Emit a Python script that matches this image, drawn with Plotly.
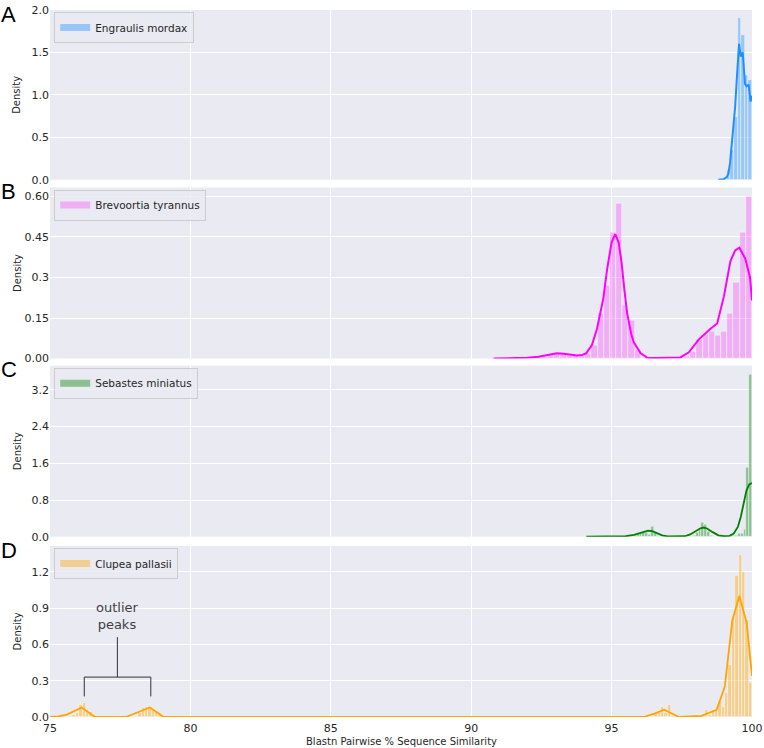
#import modules
import plotly.graph_objects as go
from plotly.subplots import make_subplots

#panel A - Engraulis mordax
a_bin_x = [99.03, 99.16, 99.29, 99.42, 99.55, 99.68, 99.81, 99.94]
a_bin_y = [0.02, 0.12, 0.35, 0.74, 1.91, 1.70, 1.23, 1.17]
a_kde_x = [98.8, 98.98, 99.1, 99.16, 99.22, 99.28, 99.34, 99.4, 99.47, 99.54, 99.6, 99.67, 99.75, 99.81, 99.88, 99.95, 100.0]
a_kde_y = [0.0, 0.005, 0.03, 0.07, 0.2, 0.42, 0.62, 0.86, 1.25, 1.60, 1.45, 1.50, 1.13, 1.10, 1.12, 0.92, 0.99]

#panel B - Brevoortia tyrannus
b_bin_x = [92.41, 92.63, 92.85, 93.07, 93.29, 93.51, 93.73, 93.95, 94.17, 94.39, 94.61, 94.83,
           95.05, 95.27, 95.49, 95.71, 95.93, 97.69, 97.91, 98.13, 98.35, 98.57, 98.79, 99.01,
           99.23, 99.45, 99.67, 99.89]
b_bin_y = [0.004, 0.008, 0.015, 0.02, 0.018, 0.012, 0.01, 0.012, 0.02, 0.05, 0.166, 0.27,
           0.466, 0.575, 0.195, 0.14, 0.033, 0.007, 0.027, 0.07, 0.09, 0.10, 0.085, 0.10,
           0.166, 0.28, 0.466, 0.60]
b_kde_x = [90.8, 91.5, 92.0, 92.4, 92.7, 93.05, 93.3, 93.55, 93.76, 93.95, 94.1, 94.3, 94.48,
           94.7, 94.84, 95.0, 95.13, 95.25, 95.35, 95.45, 95.55, 95.7, 95.79, 96.03, 96.27,
           96.6, 97.0, 97.45, 97.75, 98.1, 98.52, 98.76, 99.0, 99.23, 99.4, 99.55, 99.76,
           99.93, 100.0]
b_kde_y = [0.0, 0.001, 0.003, 0.007, 0.013, 0.02, 0.018, 0.013, 0.011, 0.013, 0.02, 0.05, 0.11,
           0.22, 0.33, 0.43, 0.46, 0.43, 0.36, 0.26, 0.17, 0.09, 0.06, 0.02, 0.003,
           0.002, 0.002, 0.004, 0.023, 0.07, 0.11, 0.13, 0.23, 0.36, 0.40, 0.41, 0.37,
           0.30, 0.215]

#panel C - Sebastes miniatus
c_bin_x = [95.85, 95.95, 96.05, 96.15, 96.25, 96.35, 96.45, 96.55, 96.65,
           97.95, 98.05, 98.15, 98.25, 98.35, 98.45, 98.55,
           99.35, 99.45, 99.55, 99.65, 99.75, 99.85, 99.95]
c_bin_y = [0.02, 0.04, 0.06, 0.10, 0.10, 0.05, 0.23, 0.08, 0.02,
           0.03, 0.08, 0.15, 0.31, 0.27, 0.12, 0.03,
           0.02, 0.03, 0.06, 0.06, 0.15, 1.51, 3.53]
c_kde_x = [94.1, 95.0, 95.5, 95.8, 96.0, 96.15, 96.3, 96.45, 96.6, 96.8, 97.0, 97.3, 97.6,
           97.8, 98.0, 98.15, 98.27, 98.4, 98.6, 98.8, 99.0, 99.2, 99.35, 99.5, 99.6, 99.7,
           99.8, 99.9, 100.0]
c_kde_y = [0.0, 0.002, 0.01, 0.04, 0.08, 0.115, 0.13, 0.12, 0.08, 0.03, 0.008, 0.002, 0.01,
           0.05, 0.12, 0.18, 0.20, 0.18, 0.10, 0.03, 0.01, 0.02, 0.07, 0.22, 0.43, 0.72,
           1.0, 1.14, 1.17]

#panel D - Clupea pallasii
d_bin_x = [75.86, 75.98, 76.10, 76.22, 76.34, 76.46, 76.58,
           78.20, 78.32, 78.44, 78.56, 78.68, 78.80, 78.92,
           96.46, 96.58, 96.70, 96.82, 96.94, 97.06, 97.18,
           98.26, 98.38, 98.50, 98.62, 98.74, 98.86, 98.98, 99.10, 99.22, 99.34, 99.46,
           99.58, 99.70, 99.82, 99.94]
d_bin_y = [0.02, 0.03, 0.10, 0.12, 0.06, 0.04, 0.02,
           0.03, 0.074, 0.087, 0.08, 0.065, 0.05, 0.03,
           0.01, 0.03, 0.05, 0.087, 0.03, 0.10, 0.01,
           0.015, 0.06, 0.02, 0.06, 0.06, 0.13, 0.08, 0.20, 0.43, 0.83, 1.17,
           1.34, 1.20, 0.80, 0.28]
d_kde_x = [75.0, 75.3, 75.6, 76.13, 76.6, 77.7, 78.56, 79.05, 94.6, 96.14, 96.55, 96.87, 97.4,
           98.2, 98.74, 99.03, 99.3, 99.55, 99.81, 100.0]
d_kde_y = [0.0, 0.005, 0.02, 0.079, 0.0, 0.0, 0.079, 0.0, 0.0, 0.0, 0.03, 0.06, 0.0,
           0.01, 0.06, 0.25, 0.80, 1.00, 0.78, 0.34]

species = ["Engraulis mordax", "Brevoortia tyrannus", "Sebastes miniatus", "Clupea pallasii"]
panel_letters = ["A", "B", "C", "D"]
line_colors = ["#1E90FF", "#FF00FF", "#008000", "#FFA500"]
bar_colors = ["rgba(30,144,255,0.4)", "rgba(255,0,255,0.25)", "rgba(0,128,0,0.4)", "rgba(255,165,0,0.4)"]
bin_widths = [0.13, 0.22, 0.1, 0.12]
y_ranges = [[0, 2.0], [0, 0.633], [0, 3.73], [0, 1.415]]
y_tickvals = [[0, 0.5, 1.0, 1.5, 2.0], [0, 0.15, 0.3, 0.45, 0.6], [0, 0.8, 1.6, 2.4, 3.2], [0, 0.3, 0.6, 0.9, 1.2]]
y_ticktext = [["0.0", "0.5", "1.0", "1.5", "2.0"], ["0.00", "0.15", "0.3", "0.45", "0.60"],
              ["0.0", "0.8", "1.6", "2.4", "3.2"], ["0.0", "0.3", "0.6", "0.9", "1.2"]]
domains = [[0.760, 1.0], [0.507, 0.749], [0.255, 0.497], [0.0, 0.242]]

bins = [(a_bin_x, a_bin_y), (b_bin_x, b_bin_y), (c_bin_x, c_bin_y), (d_bin_x, d_bin_y)]
kdes = [(a_kde_x, a_kde_y), (b_kde_x, b_kde_y), (c_kde_x, c_kde_y), (d_kde_x, d_kde_y)]

FONT = "DejaVu Sans"
TXT = "#262626"

fig = make_subplots(rows=4, cols=1, shared_xaxes=True, vertical_spacing=0.01)

for i in range(4):
    leg = "legend" if i == 0 else "legend" + str(i + 1)
    fig.add_trace(go.Bar(x=bins[i][0], y=bins[i][1], width=bin_widths[i],
                         marker=dict(color=bar_colors[i], line=dict(color="rgba(255,255,255,0.7)", width=0.6)),
                         showlegend=False), row=i + 1, col=1)
    fig.add_trace(go.Scatter(x=kdes[i][0], y=kdes[i][1], mode="lines",
                             line=dict(color=line_colors[i], width=2 if i < 2 else 1.8),
                             showlegend=False), row=i + 1, col=1)
    #legend entry drawn as a colored patch
    fig.add_trace(go.Scatter(x=[None], y=[None], mode="lines", name=species[i],
                             line=dict(color=bar_colors[i], width=7),
                             legend=leg), row=i + 1, col=1)

layout = dict(
    width=764, height=748,
    margin=dict(l=50, r=12, t=10, b=31, autoexpand=False),
    paper_bgcolor="white",
    plot_bgcolor="#EAEAF2",
    font=dict(family=FONT, size=11, color=TXT),
    bargap=0,
    barmode="overlay",
)
for i in range(4):
    sfx = "" if i == 0 else str(i + 1)
    layout["yaxis" + sfx] = dict(domain=domains[i], range=y_ranges[i], tickvals=y_tickvals[i],
                                 ticktext=y_ticktext[i], showgrid=True, gridcolor="white", gridwidth=1,
                                 zeroline=False, showline=False, ticks="", automargin=False,
                                 tickfont=dict(size=11, color=TXT))
    layout["xaxis" + sfx] = dict(range=[75, 100], tickvals=[75, 80, 85, 90, 95, 100], showgrid=True,
                                 gridcolor="white", gridwidth=1, zeroline=False, showline=False,
                                 ticks="", automargin=False, showticklabels=(i == 3),
                                 ticklabelstandoff=3, tickfont=dict(size=11, color=TXT))
    leg = "legend" if i == 0 else "legend" + str(i + 1)
    layout[leg] = dict(x=0.006, y=domains[i][1] - 0.003, xanchor="left", yanchor="top",
                       bgcolor="rgba(234,234,242,0.8)", bordercolor="#cccccc", borderwidth=1,
                       font=dict(size=10.5, color=TXT, family=FONT), tracegroupgap=0)
fig.update_layout(**layout)

#panel letters and y titles
for i in range(4):
    mid = (domains[i][0] + domains[i][1]) / 2
    fig.add_annotation(text="Density", xref="paper", yref="paper", x=-0.047, y=mid,
                       textangle=-90, showarrow=False, xanchor="center", yanchor="middle",
                       font=dict(size=10, color=TXT, family=FONT))
    fig.add_annotation(text=panel_letters[i], xref="paper", yref="paper", x=-0.073,
                       y=domains[i][1] - 0.006, showarrow=False, xanchor="left", yanchor="middle",
                       font=dict(size=22, color="black", family="Liberation Sans"))

fig.add_annotation(text="Blastn Pairwise % Sequence Similarity", xref="paper", yref="paper",
                   x=0.5, y=-0.034, showarrow=False, xanchor="center", yanchor="middle",
                   font=dict(size=10, color=TXT, family=FONT))

#outlier peaks bracket
peak_left = 76.22
peak_right = 78.59
bracket_mid = 77.40
stem_bottom = 0.17
bracket_y = 0.33
stem_top = 0.66
fig.add_shape(type="path", xref="x4", yref="y4",
              path=f"M {peak_left},{stem_bottom} L {peak_left},{bracket_y} L {peak_right},{bracket_y} L {peak_right},{stem_bottom}",
              line=dict(color="#333333", width=1))
fig.add_shape(type="line", xref="x4", yref="y4", x0=bracket_mid, x1=bracket_mid, y0=bracket_y, y1=stem_top,
              line=dict(color="#333333", width=1))
fig.add_annotation(text="outlier<br>peaks", xref="x4", yref="y4", x=bracket_mid, y=stem_top + 0.03,
                   showarrow=False, xanchor="center", yanchor="bottom",
                   font=dict(size=13, color="#404040", family=FONT))

#page body margin removed so the figure sits at the window corner
fig.write_html("out.html", config={"displayModeBar": False},
               post_script="document.body.style.margin='0';")
